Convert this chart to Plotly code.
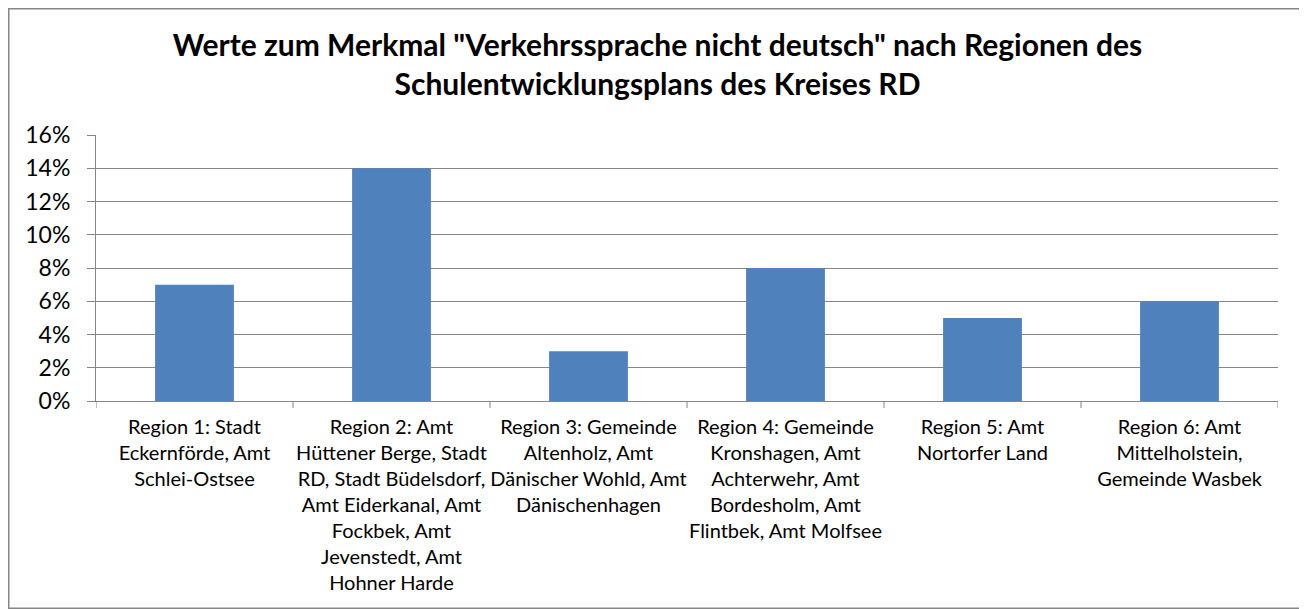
import plotly.graph_objects as go

categories = [
    "Region 1: Stadt<br>Eckernförde, Amt<br>Schlei-Ostsee",
    "Region 2: Amt<br>Hüttener Berge, Stadt<br>RD, Stadt Büdelsdorf,<br>Amt Eiderkanal, Amt<br>Fockbek, Amt<br>Jevenstedt, Amt<br>Hohner Harde",
    "Region 3: Gemeinde<br>Altenholz, Amt<br>Dänischer Wohld, Amt<br>Dänischenhagen",
    "Region 4: Gemeinde<br>Kronshagen, Amt<br>Achterwehr, Amt<br>Bordesholm, Amt<br>Flintbek, Amt Molfsee",
    "Region 5: Amt<br>Nortorfer Land",
    "Region 6: Amt<br>Mittelholstein,<br>Gemeinde Wasbek",
]
values = [0.07, 0.14, 0.03, 0.08, 0.05, 0.06]
y_ticks = [0, 0.02, 0.04, 0.06, 0.08, 0.10, 0.12, 0.14, 0.16]
y_ticklabels = ["0%", "2%", "4%", "6%", "8%", "10%", "12%", "14%", "16%"]

# page body has an 8px margin, so figure coordinates are shifted by 8px
W, H = 1299, 601
ml, mr, mt, mb = 88, 29, 127, 208
FONT = "Lato, Carlito, sans-serif"

fig = go.Figure(go.Bar(x=list(range(len(categories))), y=values,
                       marker=dict(color="#4F81BD", line=dict(width=0)), width=0.4))

fig.update_layout(
    width=W, height=H,
    margin=dict(l=ml, r=mr, t=mt, b=mb),
    paper_bgcolor="white", plot_bgcolor="white",
    font=dict(family=FONT, color="#000000"),
    title=dict(
        text="<b>Werte zum Merkmal \"Verkehrssprache nicht deutsch\" nach Regionen des<br>Schulentwicklungsplans des Kreises RD</b>",
        x=0.5, xanchor="center", y=1 - 48 / H, yanchor="middle",
        font=dict(size=30, family=FONT, color="#000000"),
    ),
    showlegend=False,
)
fig.update_xaxes(
    type="linear",
    tickmode="array", tickvals=list(range(len(categories))), ticktext=categories,
    range=[-0.5, len(categories) - 0.5],
    showline=True, linecolor="#868686", linewidth=1,
    ticks="", showgrid=False, tickfont=dict(size=20), zeroline=False,
    ticklabelstandoff=8,
)
fig.update_yaxes(
    range=[0, 0.16], tickvals=y_ticks, ticktext=y_ticklabels,
    showline=True, linecolor="#868686", linewidth=1,
    ticks="outside", ticklen=8, tickcolor="#868686",
    showgrid=True, gridcolor="#868686", gridwidth=1,
    tickfont=dict(size=23), zeroline=False,
    ticklabelstandoff=12,
)
# tick marks at category boundaries
for i in range(len(categories) + 1):
    fig.add_shape(type="line", xref="x", yref="paper", x0=i - 0.5, x1=i - 0.5,
                  y0=0, y1=-7 / (H - mt - mb), line=dict(color="#868686", width=1))
# chart border
pw, ph = W - ml - mr, H - mt - mb
fig.add_shape(type="rect", xref="paper", yref="paper",
              x0=(0.75 - ml) / pw, x1=(W - 1.5 - ml) / pw,
              y0=-(H - 0.75 - (H - mb)) / ph, y1=1 + (mt - 0.75) / ph,
              line=dict(color="#868686", width=1.5), fillcolor="rgba(0,0,0,0)", layer="below")

fig.write_html("out.html")
